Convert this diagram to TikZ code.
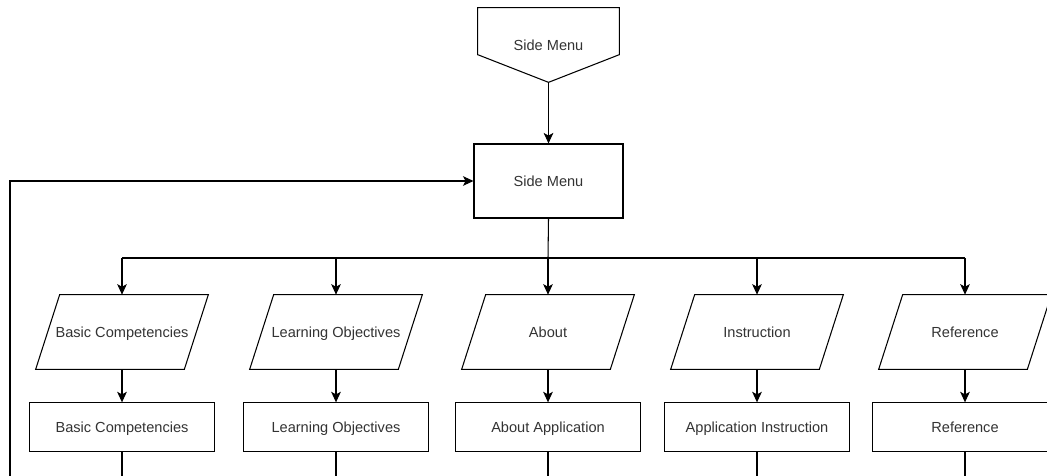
\documentclass[tikz,border=0pt]{standalone}
\usepackage{fontspec}
\setmainfont{Liberation Sans}
\usetikzlibrary{arrows.meta,positioning,calc}

\begin{document}
\begin{tikzpicture}[
  x=0.02cm, y=-0.02cm,
  font=\fontsize{8.3}{10}\selectfont,
  >={Stealth[length=6pt,width=5.5pt,inset=1.5pt]},
  every node/.style={align=center, text=black!80, text height=1.6ex, text depth=0.4ex},
  arr/.style={->, draw=black, line width=0.6pt},
  wire/.style={draw=black, line width=0.6pt},
  procbox/.style={rectangle, draw=black, line width=0.6pt, minimum width=3.7cm, minimum height=0.98cm, inner sep=2pt},
  iobox/.style={rectangle, minimum width=2.96cm, minimum height=1.48cm, inner sep=0pt}
]
  \useasboundingbox (0,0) rectangle (1047,476);

  % Off-page entry
  \node[minimum width=2.82cm, minimum height=1.48cm, inner sep=0pt] (menuin) at (548.5,45) {Side Menu};
  \draw[wire] (menuin.north west) -- (menuin.north east) -- ($(menuin.north east)+(0,47)$)
    -- (menuin.south) -- ($(menuin.north west)+(0,47)$) -- cycle;

  % Side menu process
  \node[procbox, minimum width=2.98cm, minimum height=1.48cm] (sidemenu) at (548.5,181) {Side Menu};

  % Menu items (input)
  \node[iobox] (basicin) at (122,332) {Basic Competencies};
  \node[iobox] (objin) at (336,332) {Learning Objectives};
  \node[iobox] (aboutin) at (548,332) {About};
  \node[iobox] (instrin) at (757,332) {Instruction};
  \node[iobox] (refin) at (965,332) {Reference};
  \foreach \n in {basicin,objin,aboutin,instrin,refin}
    \draw[wire] ($(\n.north west)+(12,0)$) -- ($(\n.north east)+(12,0)$)
      -- ($(\n.south east)+(-12,0)$) -- ($(\n.south west)+(-12,0)$) -- cycle;

  % Menu pages
  \node[procbox, below=0.66cm of basicin] (basic) {Basic Competencies};
  \node[procbox, below=0.66cm of objin] (obj) {Learning Objectives};
  \node[procbox, below=0.66cm of aboutin] (about) {About Application};
  \node[procbox, below=0.66cm of instrin] (instr) {Application Instruction};
  \node[procbox, below=0.66cm of refin] (ref) {Reference};

  \coordinate (bus) at (548,258);
  \coordinate (bottom) at (0,476);
  \coordinate (back) at (10,476);

  % Connecting Arrows
  \draw[arr] (menuin.south) -- (sidemenu.north);
  \draw[wire] (sidemenu.south) -- (bus);
  \draw[wire] (bus -| basicin.north) -- (bus -| refin.north);
  \draw[arr] (bus -| basicin.north) -- (basicin.north);
  \draw[arr] (bus -| objin.north) -- (objin.north);
  \draw[arr] (bus) -- (aboutin.north);
  \draw[arr] (bus -| instrin.north) -- (instrin.north);
  \draw[arr] (bus -| refin.north) -- (refin.north);

  \draw[arr] (basicin) -- (basic);
  \draw[arr] (objin) -- (obj);
  \draw[arr] (aboutin) -- (about);
  \draw[arr] (instrin) -- (instr);
  \draw[arr] (refin) -- (ref);

  % Return lines
  \draw[wire] (basic.south) -- (basic.south |- bottom);
  \draw[wire] (obj.south) -- (obj.south |- bottom);
  \draw[wire] (about.south) -- (about.south |- bottom);
  \draw[wire] (instr.south) -- (instr.south |- bottom);
  \draw[wire] (ref.south) -- (ref.south |- bottom);
  \draw[arr] (back) |- (sidemenu.west);

\end{tikzpicture}
\end{document}
